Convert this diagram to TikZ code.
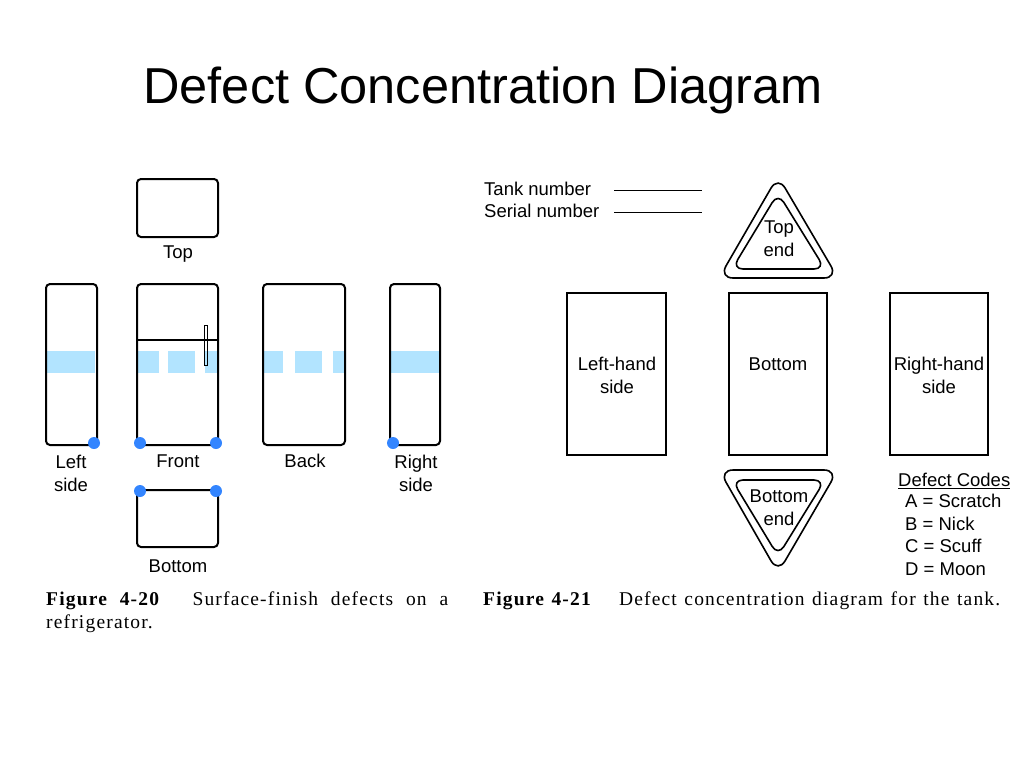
\documentclass[tikz,border=0pt]{standalone}
\usepackage{fontspec}
\setmainfont{Liberation Sans}
\newfontfamily\serf[LetterSpace=6]{Liberation Serif}
\begin{document}
\begin{tikzpicture}[x=1pt,y=-1pt,
  box/.style={draw,line width=2pt,rounded corners=4pt},
  sbox/.style={draw,line width=1.6pt},
  band/.style={fill=blue!35!cyan!30},
  dot/.style={circle,fill=blue!60!cyan!80,inner sep=0pt,minimum size=12pt},
  lbl/.style={font=\fontsize{18.5}{23}\selectfont,align=center,inner sep=0pt},
  tri/.style={draw,line width=1.6pt,rounded corners=14pt}]
\useasboundingbox (0,0) rectangle (1024,768);
\node (title) at (483,90) {\fontsize{50.5}{56}\selectfont Defect Concentration Diagram};
% left figure
\draw[box] (137,179) rectangle (218,237);
\node[lbl] (ltop) at (178,254) {Top};
\fill[band] (47,351) rectangle (95,373);
\fill[band] (138,351) rectangle (159,373);
\fill[band] (168,351) rectangle (195,373);
\fill[band] (205,351) rectangle (218,373);
\fill[band] (264,351) rectangle (283,373);
\fill[band] (295,351) rectangle (322,373);
\fill[band] (333,351) rectangle (345,373);
\fill[band] (391,351) rectangle (439,373);
\draw[box] (46,284) rectangle (97,445);
\draw[box] (137,284) rectangle (218,445);
\draw[line width=1.6pt] (137,340) -- (218,340);
\draw[line width=0.8pt] (204.5,325) rectangle (207.5,365);
\draw[box] (263,284) rectangle (345,445);
\draw[box] (390,284) rectangle (440,445);
\draw[box] (137,490) rectangle (218,547);
\node[dot] (d1) at (94,443) {};
\node[dot] (d2) at (140,443) {};
\node[dot] (d3) at (216,443) {};
\node[dot] (d4) at (393,443) {};
\node[dot] (d5) at (140,491) {};
\node[dot] (d6) at (216,491) {};
\node[lbl] (ll) at (71,473) {Left\\side};
\node[lbl] (lf) at (178,461) {Front};
\node[lbl] (lb) at (305,461) {Back};
\node[lbl] (lr) at (416,473) {Right\\side};
\node[lbl] (lbo) at (178,566) {Bottom};
\node[anchor=north west,inner sep=0pt,font=\serf\fontsize{19.5}{23}\selectfont,align=left] (cap1) at (46,592)
  {\makebox[402pt][s]{\textbf{Figure 4-20}\hspace{1em} Surface-finish defects on a}\\refrigerator.};
\node[anchor=north west,inner sep=0pt,font=\serf\fontsize{19.5}{23}\selectfont] (cap2) at (483,592)
  {\makebox[517pt][s]{\textbf{Figure 4-21}\hspace{1em} Defect concentration diagram for the tank.}};
% right figure
\node[lbl,anchor=west] (tn) at (484,189) {Tank number};
\node[lbl,anchor=west] (sn) at (484,211) {Serial number};
\coordinate (tnA) at (614,190); \coordinate (tnB) at (702,190);
\coordinate (snA) at (614,212); \coordinate (snB) at (702,212);
\draw[line width=1pt] (tnA) -- (tnB);
\draw[line width=1pt] (snA) -- (snB);
\draw[tri] (778,176) -- (838,278) -- (719,278) -- cycle;
\draw[tri,rounded corners=11pt] (778,193) -- (825,269) -- (732,269) -- cycle;
\node[lbl] (te) at (779,239) {Top\\end};
\draw[tri] (719,470) -- (838,470) -- (778,573) -- cycle;
\draw[tri,rounded corners=11pt] (732,480) -- (825,480) -- (778,556) -- cycle;
\node[lbl] (be) at (779,508) {Bottom\\end};
\draw[sbox] (567,293) rectangle (666,455);
\draw[sbox] (729,293) rectangle (827,455);
\draw[sbox] (890,293) rectangle (988,455);
\node[lbl] (lh) at (617,375) {Left-hand\\side};
\node[lbl] (bt) at (778,364) {Bottom};
\node[lbl] (rh) at (939,375) {Right-hand\\side};
\node[lbl,anchor=west] (dc) at (898,481) {\underline{Defect Codes}};
\node[lbl,anchor=west,align=left,font=\fontsize{18.5}{22.7}\selectfont] (codes) at (905,535) {A = Scratch\\B = Nick\\C = Scuff\\D = Moon};
\end{tikzpicture}
\end{document}
